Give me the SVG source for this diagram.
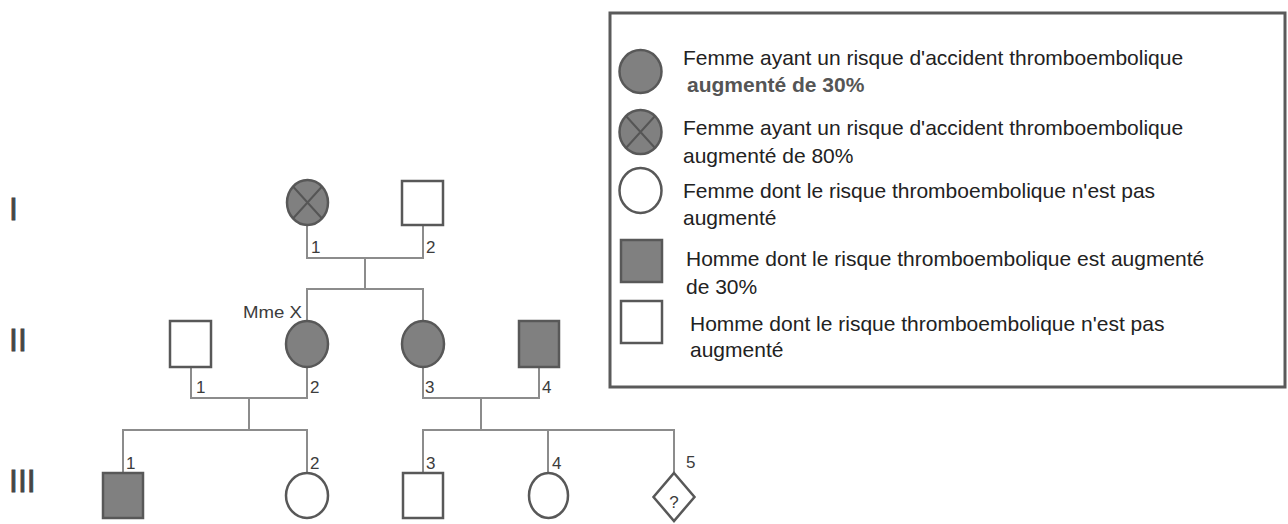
<svg xmlns="http://www.w3.org/2000/svg" width="1288" height="524" viewBox="0 0 1288 524">
<style>
.node{stroke:#585858;stroke-width:2.5}
.aff{fill:#808080}
.open{fill:#ffffff}
.xmark{stroke:#555;stroke-width:2;fill:none}
.conn{stroke:#8c8c8c;stroke-width:2;fill:none}
.num{font-family:"Liberation Sans",Arial,sans-serif;font-size:17px;fill:#3c3c3c}
.gen{font-family:"Liberation Sans",Arial,sans-serif;font-size:32px;fill:#454545;stroke:#454545;stroke-width:0.8}
.leg{font-family:"Liberation Sans",Arial,sans-serif;font-size:21px;fill:#222}
.legb{font-family:"Liberation Sans",Arial,sans-serif;font-size:21px;fill:#555;font-weight:bold}
</style>
<rect width="1288" height="524" fill="#ffffff"/>

<g id="generations">
<text class="gen" x="9" y="220">I</text>
<text class="gen" x="9" y="351">II</text>
<text class="gen" x="9" y="492">III</text>
</g>

<g id="connectors">
<path class="conn" d="M307,225 V258 H423 V225"/>
<path class="conn" d="M365,258 V289"/>
<path class="conn" d="M307,321 V289 H423 V321"/>
<path class="conn" d="M191,367 V398 H307 V367"/>
<path class="conn" d="M249,398 V430"/>
<path class="conn" d="M123,473 V430 H307 V473"/>
<path class="conn" d="M423,367 V398 H539 V367"/>
<path class="conn" d="M481,398 V430"/>
<path class="conn" d="M423,473 V430 H674 V473"/>
<path class="conn" d="M548,430 V473"/>
</g>

<g id="I-1">
<ellipse class="node aff" cx="307.5" cy="202.5" rx="20.5" ry="22.5"/>
<path class="xmark" d="M293,186.5 L322,218.5 M322,186.5 L293,218.5"/>
<text class="num" x="311" y="253">1</text>
</g>
<g id="I-2">
<rect class="node open" x="402" y="181" width="41" height="44"/>
<text class="num" x="426" y="253">2</text>
</g>

<g id="II-1">
<rect class="node open" x="170" y="321" width="41" height="46"/>
<text class="num" x="196" y="393">1</text>
</g>
<g id="II-2">
<ellipse class="node aff" cx="307" cy="344" rx="21" ry="23"/>
<text class="num" x="310" y="393">2</text>
<text class="num" x="302" y="318" text-anchor="end" font-size="17" textLength="59" lengthAdjust="spacingAndGlyphs">Mme X</text>
</g>
<g id="II-3">
<ellipse class="node aff" cx="423" cy="344" rx="21" ry="23"/>
<text class="num" x="425" y="393">3</text>
</g>
<g id="II-4">
<rect class="node aff" x="519" y="321" width="40" height="46"/>
<text class="num" x="542" y="393">4</text>
</g>

<g id="III-1">
<rect class="node aff" x="103" y="473" width="40" height="45"/>
<text class="num" x="126" y="469">1</text>
</g>
<g id="III-2">
<ellipse class="node open" cx="307" cy="495.5" rx="21" ry="22.5"/>
<text class="num" x="310" y="469">2</text>
</g>
<g id="III-3">
<rect class="node open" x="403" y="473" width="40" height="45"/>
<text class="num" x="426" y="469">3</text>
</g>
<g id="III-4">
<ellipse class="node open" cx="548.5" cy="495.5" rx="19.5" ry="22.5"/>
<text class="num" x="552" y="469">4</text>
</g>
<g id="III-5">
<path class="node open" d="M674,473 L694.5,497 L674,521 L653.5,497 Z"/>
<text class="num" x="674" y="508" text-anchor="middle" font-size="22">?</text>
<text class="num" x="686" y="468">5</text>
</g>

<g id="legend">
<rect x="610" y="13" width="675" height="374" fill="#ffffff" stroke="#5a5a5a" stroke-width="3"/>
<ellipse class="node aff" cx="640.5" cy="71.5" rx="21" ry="21.5" stroke-width="2"/>
<text class="leg" x="683" y="65">Femme ayant un risque d'accident thromboembolique</text>
<text class="legb" x="687" y="92">augmenté de 30%</text>
<ellipse class="node aff" cx="640.5" cy="132" rx="21" ry="22" stroke-width="2"/>
<path class="xmark" d="M626,116 L655,148 M655,116 L626,148"/>
<text class="leg" x="683" y="135">Femme ayant un risque d'accident thromboembolique</text>
<text class="leg" x="683" y="163">augmenté de 80%</text>
<ellipse class="node open" cx="640.5" cy="190.5" rx="21" ry="22.5" stroke-width="2"/>
<text class="leg" x="683" y="198">Femme dont le risque thromboembolique n'est pas</text>
<text class="leg" x="683" y="225">augmenté</text>
<rect class="node aff" x="621" y="240" width="41" height="42" stroke-width="2"/>
<text class="leg" x="686" y="266">Homme dont le risque thromboembolique est augmenté</text>
<text class="leg" x="686" y="294">de 30%</text>
<rect class="node open" x="621" y="301" width="41" height="42" stroke-width="2"/>
<text class="leg" x="690" y="331">Homme dont le risque thromboembolique n'est pas</text>
<text class="leg" x="690" y="357">augmenté</text>
</g>
</svg>
